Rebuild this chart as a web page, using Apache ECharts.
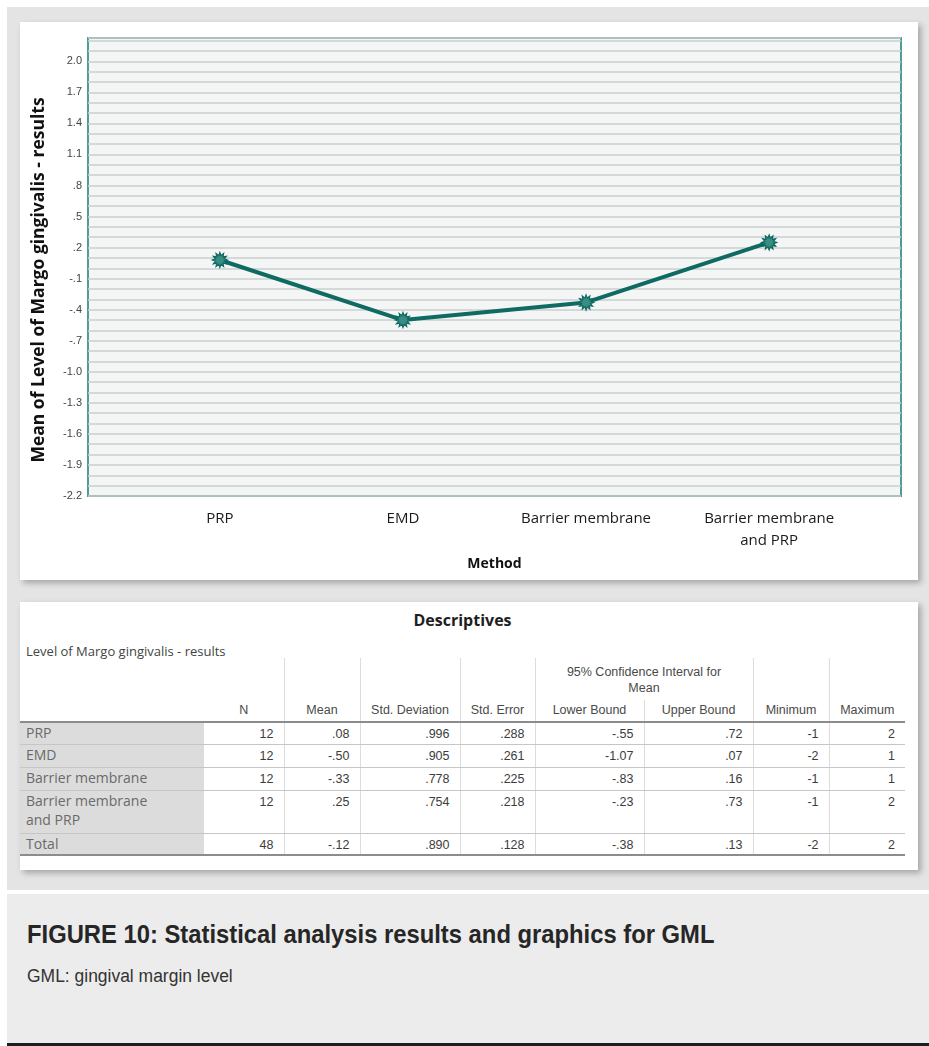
<!DOCTYPE html>
<html>
<head>
<meta charset="utf-8">
<script src="https://cdn.jsdelivr.net/npm/echarts@6/dist/echarts.min.js"></script>
<style>
  html, body { margin: 0; padding: 0; background: #ffffff; }
  body { width: 929px; height: 1046px; position: relative; overflow: hidden; }
  #panel { position: absolute; left: 7px; top: 7px; width: 922px; height: 883px; background: #e4e4e4; }
  .card { position: absolute; background: #ffffff; box-shadow: 3px 3px 6px rgba(0,0,0,0.28); }
  #chartCard { left: 20px; top: 22px; width: 898px; height: 558px; }
  #chart { position: absolute; left: 0; top: 0; width: 898px; height: 558px; }
  #tableCard { left: 20px; top: 602px; width: 898px; height: 268px; }
  #tblTitle { position: absolute; left: 0; width: 885px; top: 7px; text-align: center;
    font: bold 16px "Open Sans", sans-serif; color: #1e1e1e; }
  #tblSub { position: absolute; left: 6px; top: 40px; font: 13px "Open Sans", sans-serif; color: #444; }
  table { position: absolute; left: 0; top: 56px; width: 885px; border-collapse: collapse; table-layout: fixed; }
  td, th { font: 12.5px "Liberation Sans", Arial, sans-serif; color: #3c3c3c; padding: 0; }
  th { font-weight: normal; color: #4a4a4a; text-align: center; vertical-align: bottom; padding-bottom: 4px; }
  th.vl, td.vl { border-left: 1px solid #dcdcdc; }
  tr.hdr2 th { border-bottom: 2px solid #8c8c8c; }
  th.tall { border-bottom: 2px solid #8c8c8c; }
  td { text-align: right; vertical-align: top; padding: 4px 10px 0 0; border-bottom: 1px solid #c6c6c6; line-height: 15px; }
  td.stub { text-align: left; background: #dcdcdc; padding-left: 6px; font: 14px "Open Sans", sans-serif; color: #6a6a6a;
    line-height: 19px; padding-top: 0; }
  tr.last td { border-bottom: 2px solid #8c8c8c; }
  #caption { position: absolute; left: 7px; top: 894px; width: 922px; height: 149px; background: #ececec; }
  #capTitle { position: absolute; left: 20px; top: 25px; white-space: nowrap; font: bold 26px "Liberation Sans", Arial, sans-serif;
    color: #262626; transform: scaleX(0.915); transform-origin: left top; }
  #capNote { position: absolute; left: 20px; top: 72px; white-space: nowrap; font: 18px "Liberation Sans", Arial, sans-serif;
    color: #333; transform: scaleX(0.97); transform-origin: left top; }
  #bar { position: absolute; left: 7px; top: 1043px; width: 922px; height: 3px; background: #1e1e1e; }
</style>
</head>
<body>
<div id="panel"></div>
<div id="chartCard" class="card"><div id="chart"></div></div>
<div id="tableCard" class="card">
  <div id="tblTitle">Descriptives</div>
  <div id="tblSub">Level of Margo gingivalis - results</div>
  <table id="desc"></table>
</div>
<div id="caption">
  <div id="capTitle">FIGURE 10: Statistical analysis results and graphics for GML</div>
  <div id="capNote">GML: gingival margin level</div>
</div>
<div id="bar"></div>

<script>
// Groups and their mean gingival margin level
const methods = ['PRP', 'EMD', 'Barrier membrane', 'Barrier membrane and PRP'];
const meanValues = [0.08, -0.50, -0.33, 0.25];

// Y axis tick labels (every third 0.1 step, starting at the axis minimum)
const yTickLabels = ['2.0', '1.7', '1.4', '1.1', '.8', '.5', '.2', '-.1', '-.4', '-.7',
                     '-1.0', '-1.3', '-1.6', '-1.9', '-2.2'];
const yTickValues = yTickLabels.map(s => parseFloat(s));

// Descriptives table columns
const nValues = [12, 12, 12, 12];
const sdValues = ['.996', '.905', '.778', '.754'];
const seValues = ['.288', '.261', '.225', '.218'];
const lowerValues = ['-.55', '-1.07', '-.83', '-.23'];
const upperValues = ['.72', '.07', '.16', '.73'];
const minValues = ['-1', '-2', '-1', '-1'];
const maxValues = ['2', '1', '1', '2'];
const totalRow = ['Total', '48', '-.12', '.890', '.128', '-.38', '.13', '-2', '2'];

// SPSS-style number text: two decimals, no leading zero
function spssNum(v) {
  const s = v.toFixed(2);
  return s.replace(/^(-?)0\./, '$1.');
}

// Two-line form of the combined group name
function wrapName(name, sep) {
  return name.replace(' and ', sep + 'and ');
}

// Build the descriptives table
(function buildTable() {
  const colW = [184, 80, 76, 100, 75, 109, 109, 76, 76];
  let html = '<colgroup>' + colW.map(w => '<col style="width:' + w + 'px">').join('') + '</colgroup>';
  html += '<tr style="height:42px">' +
    '<th rowspan="2" class="tall"></th>' +
    '<th rowspan="2" class="tall">N</th>' +
    '<th rowspan="2" class="tall vl">Mean</th>' +
    '<th rowspan="2" class="tall vl">Std. Deviation</th>' +
    '<th rowspan="2" class="tall vl">Std. Error</th>' +
    '<th colspan="2" class="vl" style="line-height:16px">95% Confidence Interval for<br>Mean</th>' +
    '<th rowspan="2" class="tall vl">Minimum</th>' +
    '<th rowspan="2" class="tall vl">Maximum</th></tr>';
  html += '<tr class="hdr2" style="height:22px"><th class="vl">Lower Bound</th><th class="vl">Upper Bound</th></tr>';
  const heights = [22, 23, 23, 43];
  methods.forEach((m, i) => {
    const cells = [nValues[i], spssNum(meanValues[i]), sdValues[i], seValues[i],
                   lowerValues[i], upperValues[i], minValues[i], maxValues[i]];
    html += '<tr style="height:' + heights[i] + 'px"><td class="stub">' + wrapName(m, '<br>') + '</td>' +
      cells.map((c, j) => '<td' + (j > 0 ? ' class="vl"' : '') + '>' + c + '</td>').join('') + '</tr>';
  });
  html += '<tr class="last" style="height:22px"><td class="stub">' + totalRow[0] + '</td>' +
    totalRow.slice(1).map((c, j) => '<td' + (j > 0 ? ' class="vl"' : '') + '>' + c + '</td>').join('') + '</tr>';
  document.getElementById('desc').innerHTML = html;
})();

// 12-point starburst marker shape
function starburst(points, rOuter, rInner) {
  let d = '';
  for (let i = 0; i < points * 2; i++) {
    const a = i * Math.PI / points - Math.PI / 2;
    const r = i % 2 ? rInner : rOuter;
    d += (i ? 'L' : 'M') + (50 + r * Math.cos(a)).toFixed(2) + ' ' + (50 + r * Math.sin(a)).toFixed(2);
  }
  return 'path://' + d + 'Z';
}

const chart = echarts.init(document.getElementById('chart'), null, { renderer: 'canvas' });
chart.setOption({
  animation: false,
  grid: {
    left: 68, top: 16, width: 813, height: 458,
    show: true, backgroundColor: '#f4f5f5', borderColor: '#4f9c97', borderWidth: 2
  },
  xAxis: {
    type: 'value', min: -0.72, max: 3.72,
    axisLine: { show: false }, axisTick: { show: false }, splitLine: { show: false },
    axisLabel: {
      customValues: methods.map((m, i) => i),
      formatter: v => wrapName(methods[Math.round(v)], '\n'),
      color: '#1a1a1a', fontSize: 15, fontFamily: 'Open Sans', lineHeight: 22, margin: 12
    },
    name: 'Method', nameLocation: 'middle', nameGap: 61,
    nameTextStyle: { fontWeight: 'bold', fontSize: 14, color: '#111', fontFamily: 'Open Sans' }
  },
  yAxis: {
    type: 'value', min: -2.2, max: 2.225, interval: 0.1,
    axisLine: { show: false }, axisTick: { show: false },
    splitLine: { lineStyle: { color: '#cbcece', width: 1.5 } },
    axisLabel: {
      customValues: yTickValues,
      formatter: v => {
        const k = yTickValues.findIndex(t => Math.abs(t - v) < 1e-6);
        return k >= 0 ? yTickLabels[k] : '';
      },
      fontSize: 11, color: '#444', fontFamily: 'Liberation Sans', margin: 6
    },
    name: 'Mean of Level of Margo gingivalis - results', nameLocation: 'middle', nameGap: 40,
    nameTextStyle: { fontWeight: 'bold', fontSize: 17.5, color: '#111', fontFamily: 'Open Sans', padding: [0, 26, 0, 0] }
  },
  series: [{
    type: 'line',
    data: methods.map((m, i) => [i, meanValues[i]]),
    lineStyle: { color: '#0e6a62', width: 4 },
    symbol: starburst(12, 50, 30),
    symbolSize: 15,
    itemStyle: { color: '#3a8d83', borderColor: '#0e6a62', borderWidth: 1.2 },
    z: 3
  }]
});
</script>
</body>
</html>
